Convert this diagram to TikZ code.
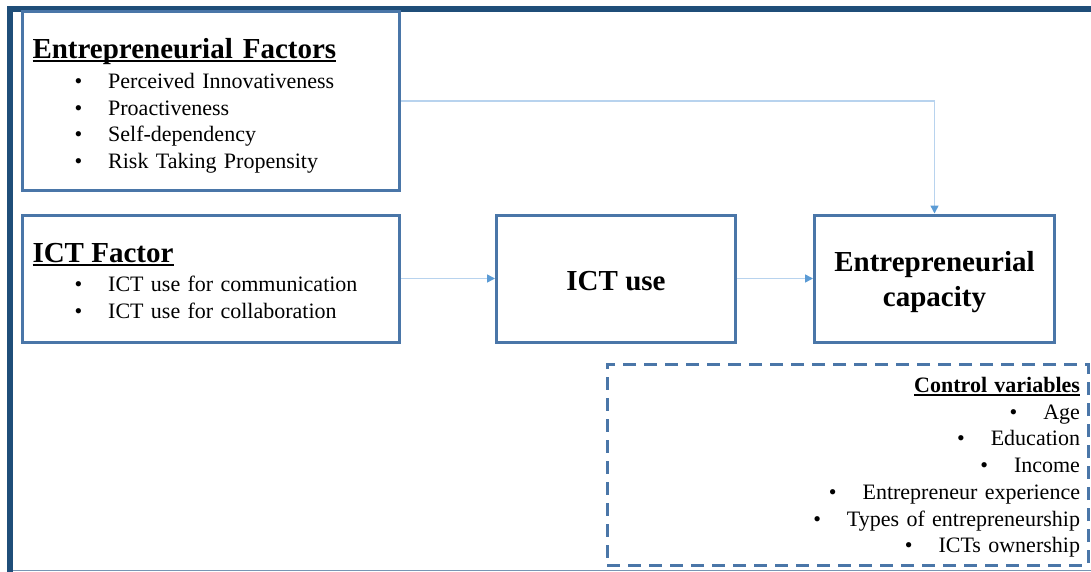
\documentclass[tikz,border=0pt]{standalone}
\usepackage{fontspec}
\setmainfont{Liberation Serif}
\usetikzlibrary{arrows.meta, positioning}

\definecolor{framecol}{RGB}{31,78,121}
\definecolor{boxcol}{RGB}{74,118,168}
\definecolor{linkcol}{RGB}{184,211,238}
\definecolor{tipcol}{RGB}{91,155,213}
\definecolor{edgecol}{RGB}{120,150,180}

\newcommand{\thickul}[3]{\setbox0\hbox{#3}\rlap{\rule[#1]{\wd0}{#2}}\box0}
\newcommand{\boxtitle}[2]{{\fontsize{29}{29}\selectfont\bfseries\rule{0pt}{#1}\thickul{-3.5pt}{2pt}{#2}}}
\newcommand{\bitem}[2][0pt]{\hspace*{#1}\textbullet\hspace{26pt}#2}

\tikzstyle{factorbox} = [draw=boxcol, line width=3pt, rectangle, minimum width=377pt, text width=357pt, inner xsep=10pt, align=left, font=\fontsize{22}{26.7}\selectfont]
\tikzstyle{mainbox} = [draw=boxcol, line width=3pt, rectangle, minimum height=127pt, align=center, font=\fontsize{29}{35}\selectfont\bfseries]
\tikzstyle{controlbox} = [draw=boxcol, line width=3pt, dash pattern=on 13pt off 8pt, rectangle, minimum height=201pt, text width=465pt, inner xsep=8pt, align=right, font=\fontsize{22}{26.7}\selectfont]
\tikzstyle{link} = [draw=linkcol, line width=1.5pt, -{Triangle[length=8pt, width=8pt, color=tipcol]}]

\begin{document}
\begin{tikzpicture}[x=1pt, y=-1pt]
  \useasboundingbox (0,0) rectangle (1091,572);
  % outer frame
  \draw [framecol, line width=6pt] (10,572) -- (10,9) -- (1091,9);
  \draw [edgecol, line width=1pt] (13,570) -- (1091,570);

  % factor boxes
  \node (IctFactor) [factorbox, minimum height=127pt] at (211,278.5) {%
    \boxtitle{24pt}{ICT Factor}\\[3pt]
    \bitem[42pt]{ICT use for communication}\\
    \bitem[42pt]{ICT use for collaboration}};
  \node (EntFactors) [factorbox, minimum height=178pt, above=22pt of IctFactor] {%
    \boxtitle{30pt}{Entrepreneurial\hspace{10pt}Factors}\\[3pt]
    \bitem[42pt]{Perceived Innovativeness}\\
    \bitem[42pt]{Proactiveness}\\
    \bitem[42pt]{Self-dependency}\\
    \bitem[42pt]{Risk Taking Propensity}};

  % main boxes
  \node (IctUse) [mainbox, minimum width=239pt, right=94pt of IctFactor] {\rule{0pt}{24pt}ICT use};
  \node (EntCapacity) [mainbox, minimum width=240pt, right=76pt of IctUse] {\rule{0pt}{27.5pt}Entrepreneurial\\capacity};

  % control variables
  \node (ControlVars) [controlbox] at (847.5,464.5) {%
    {\bfseries\rule{0pt}{21pt}\thickul{-3pt}{1.6pt}{Control variables}}\\
    \bitem{Age}\\
    \bitem{Education}\\
    \bitem{Income}\\
    \bitem{Entrepreneur experience}\\
    \bitem{Types of entrepreneurship}\\
    \bitem{ICTs ownership}};

  % links
  \draw [link] (EntFactors.east) -| (EntCapacity.north);
  \draw [link] (IctFactor) -- (IctUse);
  \draw [link] (IctUse) -- (EntCapacity);
\end{tikzpicture}
\end{document}
